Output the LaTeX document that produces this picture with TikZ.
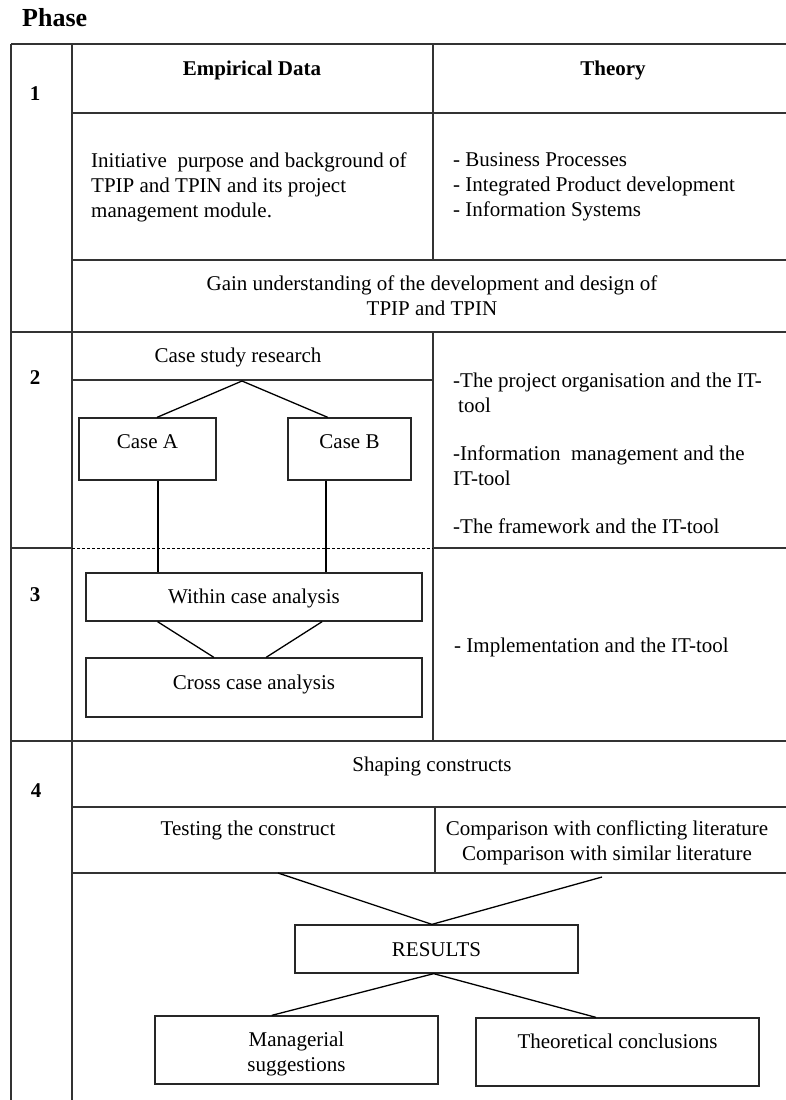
\documentclass[tikz,border=0pt]{standalone}
\usepackage{fontspec}
\setmainfont{Liberation Serif}
\usetikzlibrary{calc}
\setlength{\tabcolsep}{0pt}
\begin{document}
\begin{tikzpicture}[x=1pt,y=-1pt,
  every node/.style={font=\fontsize{21}{25}\selectfont, inner sep=0pt},
  grid/.style={line width=1.5pt, draw=black!80},
  box/.style={draw=black!85, line width=1.3pt, rectangle, inner sep=0pt, align=center},
  link/.style={line width=1.3pt, draw=black},
  hd/.style={font=\fontsize{21}{25}\selectfont\bfseries, anchor=base},
  para/.style={align=left, anchor=north west},
]
\useasboundingbox (0,0) rectangle (786,1100);

% ---- table grid ----
\draw[grid] (11,44) -- (786,44);
\draw[grid] (11,44) -- (11,1100);
\draw[grid] (72,44) -- (72,1100);
\draw[grid] (433,44) -- (433,260);
\draw[grid] (72,113) -- (786,113);
\draw[grid] (72,260) -- (786,260);
\draw[grid] (11,332) -- (786,332);
\draw[grid] (72,380) -- (433,380);
\draw[grid] (433,332) -- (433,741);
\draw[grid] (11,548) -- (72,548);
\draw[grid] (433,548) -- (786,548);
\draw[line width=0.8pt, dash pattern=on 3pt off 2pt] (72,548) -- (433,548);
\draw[grid] (11,741) -- (786,741);
\draw[grid] (72,807) -- (786,807);
\draw[grid] (435,807) -- (435,873);
\draw[grid] (72,873) -- (786,873);

% ---- headings ----
\node[font=\fontsize{26}{30}\selectfont\bfseries, anchor=base west] (phase) at (22,27) {Phase};
\node[hd] (n1) at (35,100) {1};
\node[hd] (n2) at (35,384) {2};
\node[hd] (n3) at (35,601) {3};
\node[hd] (n4) at (36,797) {4};
\node[hd] (emp) at (252,75) {Empirical Data};
\node[hd] (theory) at (613,75) {Theory};

% ---- phase 1 ----
\node[para] (init) at (91,152.5) {Initiative\ \ purpose and background of\\TPIP and TPIN and its project\\management module.};
\node[para] (bp) at (453,152.5) {- Business Processes\\- Integrated Product development\\- Information Systems};
\node[align=center, anchor=north] (gain) at (432,275.5) {Gain understanding of the development and design of\\TPIP and TPIN};

% ---- phase 2 ----
\node[anchor=base] (csr) at (238,362) {Case study research};
\coordinate (apex) at (242,381);
\node[box, minimum width=137pt, text height=30pt, text depth=32pt] (caseA) at (147.5,449) {Case A};
\node[box, minimum width=123pt, text height=30pt, text depth=32pt] (caseB) at (349.5,449) {Case B};
\draw[link] ($(caseA.north west)!0.569!(caseA.north east)$) -- (apex) -- ($(caseB.north west)!0.325!(caseB.north east)$);

\node[para] (t1) at (453,372.5) {-The project organisation and the IT-\\\hspace*{5pt}tool};
\node[para] (t2) at (453,445.5) {-Information\ \ management and the\\IT-tool};
\node[para] (t3) at (453,518.5) {-The framework and the IT-tool};

% ---- phase 3 ----
\node[box, minimum width=336pt, text height=30pt, text depth=18pt] (within) at (254,597) {Within case analysis};
\node[box, minimum width=336pt, text height=31pt, text depth=28pt] (cross) at (254,687.5) {Cross case analysis};
\coordinate (xA) at (158,0);
\coordinate (xB) at (326,0);
\draw[link] (caseA.south -| xA) -- (within.north -| xA);
\draw[link] (caseB.south -| xB) -- (within.north -| xB);
\draw[link] ($(within.south west)!0.214!(within.south east)$) -- ($(cross.north west)!0.381!(cross.north east)$);
\draw[link] ($(within.south west)!0.702!(within.south east)$) -- ($(cross.north west)!0.536!(cross.north east)$);
\node[para] (impl) at (454,637.5) {- Implementation and the IT-tool};

% ---- phase 4 ----
\node[anchor=base] (shape) at (432,771) {Shaping constructs};
\node[anchor=base] (test) at (248,835) {Testing the construct};
\node[align=center, anchor=north] (comp) at (607,820.5) {Comparison with conflicting literature\\Comparison with similar literature};
\coordinate (c1) at (278,873);
\coordinate (c2) at (602,877);
\node[box, minimum width=283pt, text height=31pt, text depth=17pt] (results) at (436.5,949) {RESULTS};
\draw[link] (c1) -- ($(results.north west)!0.484!(results.north east)$) -- (c2);
\node[box, minimum width=283pt, text height=30pt, text depth=38pt] (manag) at (296.5,1050) {\begin{tabular}[t]{c}Managerial\\suggestions\end{tabular}};
\node[box, minimum width=283pt, text height=30pt, text depth=38pt] (theo) at (617.5,1052) {Theoretical conclusions};
\draw[link] ($(manag.north west)!0.413!(manag.north east)$) -- ($(results.south west)!0.49!(results.south east)$) -- ($(theo.north west)!0.424!(theo.north east)$);
\end{tikzpicture}
\end{document}
